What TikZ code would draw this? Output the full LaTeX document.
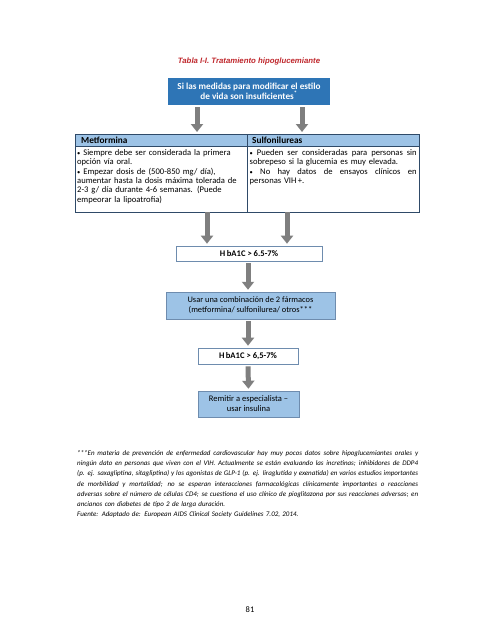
\documentclass[tikz,border=0pt]{standalone}
\usepackage{fontspec}
\setmainfont{Carlito}
\newfontfamily\titlefont{Liberation Sans}
\usetikzlibrary{arrows.meta}
\definecolor{darkblue}{HTML}{2E75B6}
\definecolor{lightblue}{HTML}{9DC3E6}
\definecolor{tableborder}{HTML}{2F4A68}
\definecolor{boxborder}{HTML}{6E8CAE}
\definecolor{arrowgray}{HTML}{7F7F7F}
\definecolor{titlered}{HTML}{C0282D}
\newcommand{\blt}{{\fontsize{6.5}{7}\selectfont•}}
\newcommand{\jline}[1]{{\spaceskip=0pt\xspaceskip=0pt\makebox[\linewidth][s]{#1}}\\}
\begin{document}
\begin{tikzpicture}[x=1pt,y=-1pt,
  font=\fontsize{8.6}{9.3}\selectfont,
  blk/.style={arrowgray, line width=5pt, -{Triangle[width=12pt,length=8pt]}, shorten <=2pt, shorten >=2pt},
  cell/.style={draw=tableborder, line width=0.8pt, inner sep=0pt, anchor=north west},
  whitebox/.style={draw=boxborder, fill=white, line width=0.6pt, inner sep=0pt, align=center, font=\bfseries\fontsize{8.6}{9.3}\selectfont},
  lightbox/.style={draw=boxborder, fill=lightblue, line width=0.5pt, inner sep=0pt, align=center, font=\fontsize{8.4}{10}\selectfont},
  txt/.style={inner sep=0pt, anchor=north west}]
\useasboundingbox (0,0) rectangle (495,640);
\fill[white] (0,0) rectangle (495,640);

\node[font=\titlefont\bfseries\itshape\fontsize{7.8}{9}\selectfont, text=titlered] (title) at (249,61) {Tabla I-I. Tratamiento hipoglucemiante};

\node[fill=darkblue, text=white, font=\bfseries\fontsize{9.2}{10}\selectfont, minimum width=162pt, minimum height=27pt, inner sep=0pt, align=center] (top) at (249,91.5) {Si las medidas para modificar el estilo\\de vida son insuficientes\textsuperscript{*}};

% table
\node[cell, fill=lightblue, minimum width=172pt, minimum height=12pt] (meth) at (75,134) {};
\node[cell, fill=lightblue, minimum width=172pt, minimum height=12pt] (sulh) at (247,134) {};
\node[cell, minimum width=172pt, minimum height=66pt] (metb) at (75,146) {};
\node[cell, minimum width=172pt, minimum height=66pt] (sulb) at (247,146) {};
\node[inner sep=0pt, anchor=west, font=\bfseries\fontsize{9.3}{9.3}\selectfont] (methtxt) at ([xshift=6pt]meth.west) {Metformina};
\node[inner sep=0pt, anchor=west, font=\bfseries\fontsize{9.3}{9.3}\selectfont] (sulhtxt) at ([xshift=5pt]sulh.west) {Sulfonilureas};
\node[txt, text width=168pt, align=left] (mettxt) at ([xshift=2pt,yshift=-3.5pt]metb.north west) {\blt{} Siempre debe ser considerada la primera\\opción vía oral.\\\blt{} Empezar dosis de (500-850 mg/ día),\\aumentar hasta la dosis máxima tolerada de\\2-3 g/ día durante 4-6 semanas. (Puede\\empeorar la lipoatrofia)};
\node[txt, text width=167pt, align=left] (sultxt) at ([xshift=2.5pt,yshift=-3.5pt]sulb.north west) {\jline{\blt{} Pueden ser consideradas para personas sin}sobrepeso si la glucemia es muy elevada.\\\jline{\blt{} No hay datos de ensayos clínicos en}personas VIH\,+.};

% arrows top box -> table
\coordinate (a1) at ([xshift=-52pt]top.south);
\coordinate (a2) at ([xshift=53pt]top.south);
\draw[blk] (a1) -- (a1 |- meth.north);
\draw[blk] (a2) -- (a2 |- sulh.north);

% flow boxes
\node[whitebox, minimum width=146pt, minimum height=15pt] (hb1) at (249,253.5) {H\,bA1C > 6.5-7\%};
\node[lightbox, minimum width=169pt, minimum height=27pt] (comb) at (250.5,305.5) {Usar una combinación de 2 fármacos\\(metformina/ sulfonilurea/ otros***};
\node[whitebox, minimum width=100pt, minimum height=16pt] (hb2) at (248,356) {H\,bA1C > 6,5-7\%};
\node[lightbox, minimum width=101pt, minimum height=26pt, font=\fontsize{8.5}{10}\selectfont] (rem) at (248.5,404) {Remitir a especialista –\\usar insulina};

\coordinate (b1) at (207,212);
\coordinate (b2) at (287,212);
\draw[blk, shorten <=0pt] (b1) -- (b1 |- hb1.north);
\draw[blk, shorten <=0pt] (b2) -- (b2 |- hb1.north);
\draw[blk] (hb1.south -| hb2.south) -- (hb2.south |- comb.north);
\draw[blk] (comb.south -| hb2.south) -- (hb2.north);
\draw[blk] (hb2.south) -- (rem.north);

% footnote
\node[txt, text width=341pt, align=left, font=\itshape\fontsize{7}{10.3}\selectfont] (foot) at (77,450) {\jline{***En materia de prevención de enfermedad cardiovascular hay muy pocos datos sobre hipoglucemiantes orales y}\jline{ningún dato en personas que viven con el VIH. Actualmente se están evaluando las incretinas; inhibidores de DDP4}\jline{(p. ej. saxagliptina, sitagliptina) y los agonistas de GLP-1 (p. ej. liraglutida y exenatida) en varios estudios importantes}\jline{de morbilidad y mortalidad; no se esperan interacciones farmacológicas clínicamente importantes o reacciones}\jline{adversas sobre el número de células CD4; se cuestiona el uso clínico de pioglitazona por sus reacciones adversas; en}ancianos con diabetes de tipo 2 de larga duración.\\Fuente: Adaptado de: European AIDS Clinical Society Guidelines 7.02, 2014.};

\node[font=\fontsize{8.5}{9}\selectfont] (pnum) at (250,610) {81};
\end{tikzpicture}
\end{document}
